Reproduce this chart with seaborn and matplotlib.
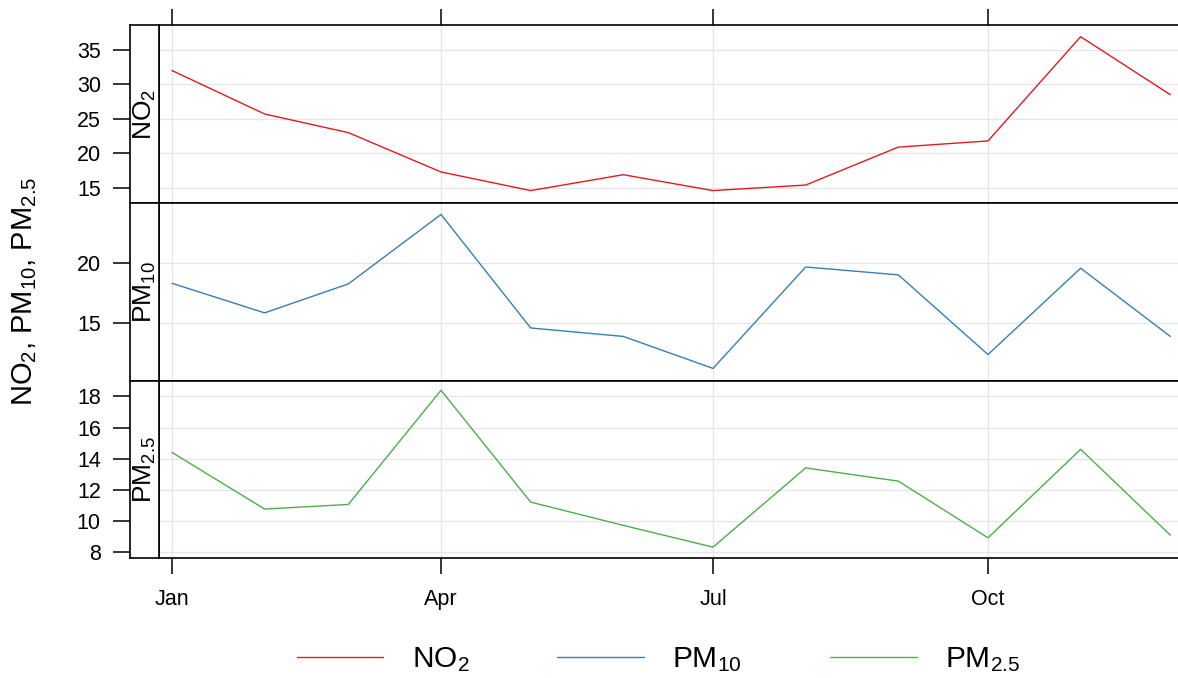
#!/usr/bin/env python3
# -*- coding: utf-8 -*-
"""Monthly NO2 / PM10 / PM2.5 time series, stacked panels with left strips."""

import pandas as pd
import matplotlib
matplotlib.use("Agg")
import matplotlib.pyplot as plt
import matplotlib.dates as mdates
import seaborn as sns

# --- data (monthly means) ---
months = pd.date_range("2003-01-01", periods=12, freq="MS")
no2 = [32.0, 25.7, 23.0, 17.3, 14.6, 16.9, 14.6, 15.4, 20.9, 21.8, 36.9, 28.5]
pm10 = [18.3, 15.85, 18.25, 24.0, 14.6, 13.9, 11.25, 19.65, 19.0, 12.4, 19.55, 13.9]
pm25 = [14.4, 10.75, 11.05, 18.4, 11.2, 9.7, 8.3, 13.4, 12.55, 8.9, 14.6, 9.07]

labels = ["NO$_2$", "PM$_{10}$", "PM$_{2.5}$"]
yticks = [[15, 20, 25, 30, 35], [15, 20], [8, 10, 12, 14, 16, 18]]
ylims = [(12.8, 38.6), (10.25, 24.95), (7.6, 19.03)]
colors = ["#E41A1C", "#377EB8", "#4DAF4A"]
xticks = pd.to_datetime(["2003-01-01", "2003-04-01", "2003-07-01", "2003-10-01"])

sns.set_theme(style="white")
plt.rcParams["font.family"] = ["Liberation Sans", "DejaVu Sans"]
plt.rcParams["mathtext.default"] = "regular"
plt.rcParams["text.color"] = "black"
plt.rcParams["xtick.color"] = "black"
plt.rcParams["ytick.color"] = "black"

W, H = 1178, 678
fig = plt.figure(figsize=(W / 100, H / 100), dpi=100)

# panel geometry in pixels
x_strip, x_plot = 130, 159
edges = [25, 203, 380.5, 558]
day0 = pd.Timestamp("2003-01-01")
px_day = 2.989
xlim = (day0 - pd.Timedelta(days=(172 - x_plot) / px_day),
        day0 + pd.Timedelta(days=(W - 172) / px_day))

handles, names = [], []
series = [no2, pm10, pm25]
for i in range(3):
    top, bot = edges[i], edges[i + 1]
    y0, h = 1 - bot / H, (bot - top) / H
    ax = fig.add_axes([x_plot / W, y0, 1 - x_plot / W, h])
    strip = fig.add_axes([x_strip / W, y0, (x_plot - x_strip) / W, h], sharey=ax)

    df = pd.DataFrame({"date": months, "value": series[i]})
    sns.lineplot(data=df, x="date", y="value", ax=ax, color=colors[i],
                 lw=1.0, label=labels[i])
    hh, ll = ax.get_legend_handles_labels()
    handles += hh
    names += ll
    ax.get_legend().remove()

    ax.set_xlim(*xlim)
    ax.set_ylim(*ylims[i])
    ax.set_yticks(yticks[i])
    ax.set_xticks(xticks)
    ax.xaxis.set_major_formatter(mdates.DateFormatter("%b"))
    ax.grid(True, color="#e5e5e5", lw=0.9)
    ax.set_xlabel("")
    ax.set_ylabel("")
    ax.tick_params(left=False, labelleft=False, bottom=False, labelbottom=False,
                   direction="out", length=11.5, width=1.1, colors="black",
                   labelsize=15.5, pad=11)
    if i == 0:
        ax.tick_params(axis="x", top=True)
    if i == 2:
        ax.tick_params(axis="x", bottom=True, labelbottom=True)
    for sp in ax.spines.values():
        sp.set_color("black")
        sp.set_linewidth(1.2)
    ax.spines["right"].set_visible(False)

    strip.set_facecolor("white")
    strip.set_xticks([])
    strip.tick_params(axis="y", left=True, labelleft=True, direction="out",
                      length=12, width=1.1, colors="black", labelsize=15.5, pad=9)
    for sp in strip.spines.values():
        sp.set_color("black")
        sp.set_linewidth(1.2)
    strip.text(0.5, 0.5, labels[i], rotation=90, ha="center", va="center",
               transform=strip.transAxes, fontsize=19, color="black")

fig.text(25 / W, 1 - 291 / H, "NO$_2$, PM$_{10}$, PM$_{2.5}$", rotation=90,
         ha="center", va="center", fontsize=21, color="black")

fig.legend(handles, names, loc="center", bbox_to_anchor=(0.559, 0.027), ncol=3,
           frameon=False, fontsize=21.5, handlelength=2.9, handletextpad=0.95,
           columnspacing=2.95)

fig.savefig("out.png", dpi=100)
